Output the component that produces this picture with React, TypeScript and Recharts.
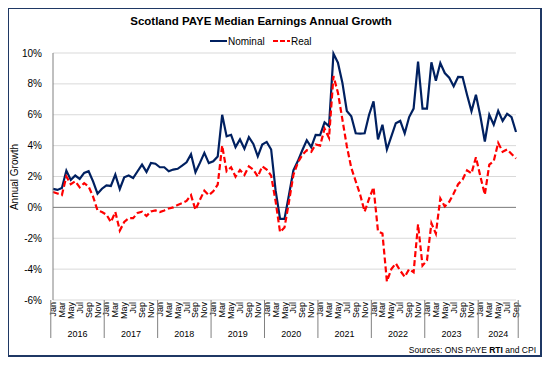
import React from "react";
import { CartesianGrid, Line, LineChart, ReferenceLine, XAxis, YAxis } from "recharts";

const years = [2016, 2017, 2018, 2019, 2020, 2021, 2022, 2023, 2024];
const monthNames = ["Jan", "Feb", "Mar", "Apr", "May", "Jun", "Jul", "Aug", "Sep", "Oct", "Nov", "Dec"];

const nominal = [
  1.2, 1.13, 1.26, 2.38, 1.78, 2.06, 1.84, 2.23, 2.34, 1.69, 0.89, 1.21,
  1.43, 1.39, 2.12, 1.19, 1.95, 2.06, 1.9, 2.34, 2.77, 2.3, 2.88, 2.83,
  2.6, 2.6, 2.34, 2.45, 2.5, 2.7, 2.92, 3.44, 2.27, 2.88, 3.53, 2.87,
  2.99, 3.3, 6.0, 4.6, 4.7, 3.9, 4.4, 3.8, 4.55, 4.11, 3.31, 4.07,
  4.24, 3.75, 1.1, -0.75, -0.75, 0.8, 2.4, 3.0, 3.7, 4.35, 3.9, 4.7,
  4.68, 5.5, 5.26, 9.96, 9.37, 8.08, 6.24, 5.9, 4.8, 4.78, 4.8, 6.0,
  6.87, 4.4, 5.35, 3.75, 4.6, 5.45, 5.6, 4.8, 5.85, 6.4, 9.45, 6.4,
  6.4, 9.4, 8.2, 9.35, 8.7, 8.4, 7.85, 8.45, 8.44, 7.3, 6.23, 7.3,
  5.9, 4.27, 6.0, 5.35, 6.25, 5.6, 6.06, 5.85, 4.88,
];

const real = [
  1.0, 0.9, 0.8, 2.0, 1.5, 1.69, 1.3, 1.57, 1.35, 0.7, -0.2, -0.3,
  -0.47, -0.95, -0.3, -1.5, -0.95, -0.7, -0.7, -0.36, -0.28, -0.56, -0.26, -0.2,
  -0.3, -0.2, -0.07, 0.0, 0.16, 0.27, 0.42, 0.79, -0.16, 0.49, 1.08, 0.79,
  1.04, 1.47, 4.0, 2.34, 2.6, 1.99, 2.42, 2.1, 2.66, 2.45, 1.99, 2.66,
  2.45, 2.06, 0.4, -1.6, -1.3, 0.35, 2.1, 2.9, 3.4, 3.7, 3.6, 4.07,
  4.0, 5.1, 4.5, 8.5, 7.43, 5.7, 3.96, 2.56, 1.69, 0.82, -0.28, 0.56,
  1.3, -1.55, -1.69, -4.8, -4.0, -3.63, -4.1, -4.5, -4.0, -4.2, -1.1, -3.77,
  -3.44, -1.03, -1.7, 0.58, 0.06, 0.36, 0.9, 1.5, 1.8, 2.4, 2.2, 3.25,
  2.0, 0.82, 2.77, 3.0, 4.18, 3.6, 3.75, 3.46, 3.16,
];

const yTicks = [-6, -4, -2, 0, 2, 4, 6, 8, 10];

const data = nominal.map((v, i) => ({
  label: `${monthNames[i % 12]} ${years[Math.floor(i / 12)]}`,
  nominal: v,
  real: real[i],
}));

const W = 550;
const H = 365;
const PLOT_LEFT = 53;
const PLOT_RIGHT = 516;
const PLOT_TOP = 53;
const PLOT_BOTTOM = 300;
const FONT = "'Liberation Sans', Arial, sans-serif";
const NAVY = "#002060";
const RED = "#FF0000";

const band = (PLOT_RIGHT - PLOT_LEFT) / data.length;

const MonthTick = (props: any) => {
  const { x, payload } = props;
  const i = payload.index;
  const m = i % 12;
  const yr = years[Math.floor(i / 12)];
  const last = i === data.length - 1;
  return (
    <g>
      {m % 2 === 0 && (
        <text
          transform={`translate(${x + 3},${PLOT_BOTTOM + 2}) rotate(-90)`}
          textAnchor="end"
          fontSize={9}
          fontFamily={FONT}
          fill="#000"
        >
          {monthNames[m]}
        </text>
      )}
      {m === 0 && (
        <line x1={x - band / 2} x2={x - band / 2} y1={PLOT_BOTTOM} y2={PLOT_BOTTOM + 38} stroke="#808080" />
      )}
      {last && (
        <line x1={x + band / 2} x2={x + band / 2} y1={PLOT_BOTTOM} y2={PLOT_BOTTOM + 38} stroke="#808080" />
      )}
      {((yr < 2024 && m === 6) || (yr === 2024 && m === 4)) && (
        <text
          x={yr < 2024 ? x - band / 2 : x}
          y={PLOT_BOTTOM + 37}
          textAnchor="middle"
          fontSize={9}
          fontFamily={FONT}
          fill="#000"
        >
          {yr}
        </text>
      )}
    </g>
  );
};

export default function App() {
  return (
    <div style={{ position: "relative", left: -8, top: -8, width: W, height: H, background: "#fff" }}>
      <LineChart
        width={W}
        height={H}
        data={data}
        margin={{ top: PLOT_TOP, right: W - PLOT_RIGHT, bottom: 25, left: 8 }}
      >
        <CartesianGrid vertical={false} stroke="#D9D9D9" />
        <XAxis
          dataKey="label"
          interval={0}
          axisLine={false}
          tickLine={false}
          height={H - PLOT_BOTTOM - 25}
          tick={<MonthTick />}
        />
        <YAxis
          width={PLOT_LEFT - 8}
          domain={[-6, 10]}
          ticks={yTicks}
          tickFormatter={(v) => `${v}%`}
          tickLine={false}
          tickMargin={5}
          axisLine={{ stroke: "#808080" }}
          tick={{ fontSize: 10, fontFamily: FONT, fill: "#000" }}
        />
        <ReferenceLine y={0} stroke="#808080" />
        <Line
          type="linear"
          dataKey="nominal"
          stroke={NAVY}
          strokeWidth={2.2}
          dot={false}
          isAnimationActive={false}
        />
        <Line
          type="linear"
          dataKey="real"
          stroke={RED}
          strokeWidth={2.2}
          strokeDasharray="6 3"
          dot={false}
          isAnimationActive={false}
        />
      </LineChart>
      <svg
        width={W}
        height={H}
        style={{ position: "absolute", left: 0, top: 0, pointerEvents: "none" }}
        fontFamily={FONT}
      >
        <rect x={8} y={8} width={533} height={348} fill="none" stroke="#1F3864" strokeWidth={2} />
        <text x={261} y={25} textAnchor="middle" fontSize={11.5} fontWeight="bold" fill="#000">
          Scotland PAYE Median Earnings Annual Growth
        </text>
        <line x1={210} x2={227} y1={41} y2={41} stroke={NAVY} strokeWidth={2} />
        <text x={228} y={44.5} fontSize={10} fill="#000">Nominal</text>
        <line x1={273} x2={290} y1={41} y2={41} stroke={RED} strokeWidth={2} strokeDasharray="5 2" />
        <text x={291} y={44.5} fontSize={10} fill="#000">Real</text>
        <text transform="translate(18,177) rotate(-90)" textAnchor="middle" fontSize={10} fill="#000">
          Annual Growth
        </text>
        <text x={536} y={353} textAnchor="end" fontSize={8.5} fill="#000">
          Sources: ONS PAYE <tspan fontWeight="bold">RTI</tspan> and CPI
        </text>
      </svg>
    </div>
  );
}
